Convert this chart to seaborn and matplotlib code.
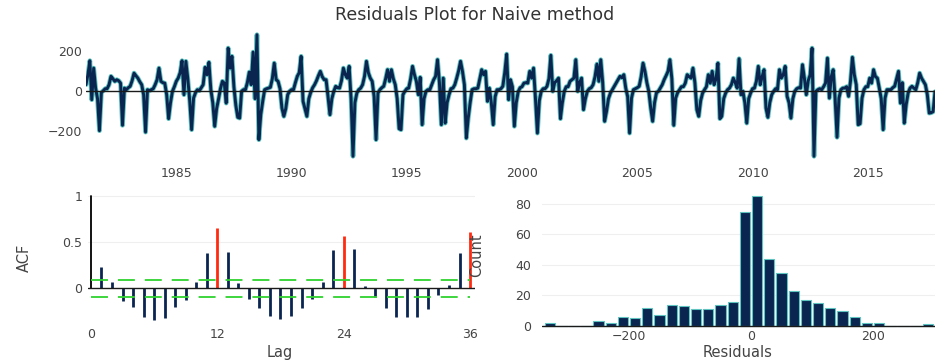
import numpy as np
import pandas as pd
import matplotlib
matplotlib.use("Agg")
import matplotlib.pyplot as plt
import seaborn as sns

# Monthly residuals of the naive forecast, Feb 1981 .. Dec 2017
residuals_1980s = [
    30, 80, 150, -45, 113, 13, -40, -200, -10, 0, 10,                  # 1981 (from Feb)
    10, 30, 72, 60, 47, 55, 50, 38, -173, 13, 5, 15,                   # 1982
    22, 50, 88, 75, 63, 45, 30, -20, -207, 5, 0, 5,                    # 1983
    10, 30, 55, 113, 47, 40, 38, -20, -140, -60, -3, 20,               # 1984
    47, 63, 90, 150, -20, 147, 60, -50, -195, -37, -10, 5,             # 1985
    0, 15, 30, 117, 80, 142, 5, -60, -178, -90, -42, 10,               # 1986
    47, 38, -62, 213, 113, 172, 20, -73, -133, -137, -3, 5,            # 1987
    5, 40, 93, 30, 193, -40, 280, -245, -120, -53, 5, 10,              # 1988
    13, 17, 60, 138, 55, 47, 10, -87, -128, -90, -20, -3,              # 1989
]
residuals_1990s = [
    5, 5, 40, 72, 90, 172, -53, -90, -128, -40, -8, 15,                # 1990
    30, 50, 75, 97, 70, 55, 55, -30, -120, -40, -3, 22,                # 1991
    15, 13, 50, 113, 80, 63, 122, -40, -328, -60, -12, 5,              # 1992
    13, 30, 72, 147, 90, 63, 47, -30, -245, -12, 5, 15,                # 1993
    22, 60, 105, 47, 105, 60, 30, -40, -190, -195, -20, -3,            # 1994
    10, 13, 60, 122, 80, 47, -20, 67, -170, -40, -3, 5,                # 1995
    5, 30, 55, 72, 155, 40, -170, 63, -162, -60, -20, 10,              # 1996
    13, 30, 63, 100, 147, 97, 30, -237, -137, -60, 5, 10,              # 1997
    10, 13, 60, 105, 80, 97, -53, 13, -60, -170, -30, 5,               # 1998
    5, 10, 22, 90, 183, -45, 55, 20, -178, -60, -5, 15,                # 1999
]
residuals_2000s = [
    20, 38, 40, 38, 97, 63, 113, -40, -212, -50, -3, 10,               # 2000
    10, 22, 60, 177, -3, 40, 50, 63, -140, -60, -3, 20,                # 2001
    20, 47, 55, 63, 155, -3, 40, 63, -95, -40, -3, 10,                 # 2002
    15, 30, 70, 133, 47, 155, 40, -153, -103, -40, -12, 5,             # 2003
    22, 40, 55, 72, 65, 80, 13, -30, -212, -37, 5, 10,                 # 2004
    15, 22, 70, 138, 97, 40, -3, -87, -153, -60, -10, -3,              # 2005
    13, 30, 55, 75, 97, 155, 60, -173, -37, -10, 5, 20,                # 2006
    20, 38, 80, 70, 63, 113, 40, -95, -128, -50, -12, 5,               # 2007
    20, 80, 38, 97, 30, 60, 138, -140, -128, -40, -12, 5,              # 2008
    13, 30, 63, 40, 13, 160, -20, -3, -60, -162, -40, -12,             # 2009
]
residuals_2010s = [
    10, 13, 47, 122, 30, 70, 105, -87, -133, -60, -20, -3,             # 2010
    10, 5, 105, 63, 80, 122, -28, -60, -137, -40, -3, 10,              # 2011
    15, 13, 130, 63, -20, 50, 80, 213, -328, -3, 5, 10,                # 2012
    5, 20, 38, 163, -37, 70, 105, -40, -233, -37, 5, 13,               # 2013
    13, 20, -28, 47, 167, 80, 30, -170, -165, -37, 5, 20,              # 2014
    20, 63, 38, 105, 70, 63, 13, -40, -195, -37, 5, 5,                 # 2015
    5, 15, 22, 60, 97, -62, 40, -162, -70, -12, 13, 22,                # 2016
    13, 5, 40, 88, 63, 47, 30, -20, -112, -110, -105, -5,              # 2017
]
year_ticks = [1985, 1990, 1995, 2000, 2005, 2010, 2015]

# Autocorrelation of the residuals, lags 0..36
acf_values = [1.0, 0.227, 0.072, -0.134, -0.206, -0.314, -0.343, -0.321,
              -0.202, -0.126, 0.065, 0.383, 0.657, 0.397, 0.061, -0.119,
              -0.213, -0.296, -0.336, -0.303, -0.213, -0.119, 0.069, 0.419,
              0.563, 0.430, 0.025, -0.097, -0.209, -0.307, -0.307, -0.307,
              -0.220, -0.072, 0.032, 0.383, 0.606]
seasonal_lags = [12, 24, 36]
acf_bound = 0.093
lag_ticks = [0, 12, 24, 36]

# Histogram of residuals: 20-wide bins starting at -340
hist_start = -340
hist_width = 20
hist_counts = [2, 0, 0, 0, 3, 2, 6, 5, 12, 7, 14, 13, 11, 11, 14, 16,
               75, 85, 44, 35, 23, 17, 15, 12, 10, 6, 2, 2, 0, 0, 0, 1]

NAVY = "#0a2550"
TEAL = "#5fc3c0"
RED = "#ff2a10"
GREEN = "#2fd22f"
TEXT = "#444444"
GRID = "#efefef"

sns.set_theme(style="white")
plt.rcParams["font.family"] = ["DejaVu Sans"]

W, H = 950, 363
fig = plt.figure(figsize=(W / 100, H / 100), dpi=100)


def px_axes(left, top, right, bottom):
    return fig.add_axes([left / W, 1 - bottom / H, (right - left) / W, (bottom - top) / H])


def style_axes(ax, size=9, pad_x=3, pad_y=3):
    for s in ax.spines.values():
        s.set_visible(False)
    ax.tick_params(axis="x", length=0, labelsize=size, labelcolor=TEXT, pad=pad_x)
    ax.tick_params(axis="y", length=0, labelsize=size, labelcolor=TEXT, pad=pad_y)


# ---- residual time series ----
resid = residuals_1980s + residuals_1990s + residuals_2000s + residuals_2010s
t = 1981 + (np.arange(len(resid)) + 1) / 12
ts = pd.DataFrame({"time": t, "resid": resid})

ax_ts = px_axes(86, 30.7, 935, 158.7)
sns.lineplot(data=ts, x="time", y="resid", ax=ax_ts, color=TEAL, lw=3.4, estimator=None)
sns.lineplot(data=ts, x="time", y="resid", ax=ax_ts, color=NAVY, lw=2.1, estimator=None)
ax_ts.axhline(0, color="#1a1a1a", lw=1.0, zorder=5)
ax_ts.set_xlim(t[0], t[-1])
ax_ts.set_ylim(-340, 300)
ax_ts.set_xticks(year_ticks)
ax_ts.set_yticks([-200, 0, 200])
ax_ts.set_xlabel("")
ax_ts.set_ylabel("")
style_axes(ax_ts, pad_x=6, pad_y=3)

# ---- ACF ----
ax_acf = px_axes(87.8, 194.2, 475.3, 325.2)
lags = np.arange(len(acf_values))
bar_colors = [RED if l in seasonal_lags else NAVY for l in lags[1:]]
ax_acf.yaxis.grid(True, color=GRID, lw=0.8)
ax_acf.set_axisbelow(True)
ax_acf.vlines(lags[1:], 0, acf_values[1:], colors=bar_colors, lw=2.0, zorder=3)
ax_acf.plot([0, 0], [0, acf_values[0]], color="black", lw=1.3, zorder=3)
ax_acf.axhline(0, color="#1a1a1a", lw=1.0, zorder=4)
for b in (acf_bound, -acf_bound):
    ax_acf.plot([0, 36], [b, b], color=GREEN, lw=1.3, dashes=(9.4, 5.5), zorder=5)
ax_acf.set_xlim(-0.3, 36.5)
ax_acf.set_ylim(-0.4, 1.02)
ax_acf.set_xticks(lag_ticks)
ax_acf.set_yticks([0, 0.5, 1])
ax_acf.set_yticklabels(["0", "0.5", "1"])
style_axes(ax_acf, pad_x=2, pad_y=4)
ax_acf.set_xlabel("Lag", fontsize=10.5, color=TEXT)
ax_acf.set_ylabel("ACF", fontsize=10.5, color=TEXT)
ax_acf.xaxis.set_label_coords(0.496, -0.15)
ax_acf.yaxis.set_label_coords(-0.145, 0.513)

# ---- histogram ----
ax_h = px_axes(542.4, 194.8, 935.2, 329)
edges = [hist_start + hist_width * i for i in range(len(hist_counts) + 1)]
hist_df = pd.DataFrame({"resid": [e + hist_width / 2 for e in edges[:-1]],
                        "count": hist_counts})
ax_h.yaxis.grid(True, color=GRID, lw=0.8)
ax_h.set_axisbelow(True)
sns.histplot(data=hist_df, x="resid", weights="count", bins=edges, ax=ax_h,
             color=NAVY, edgecolor=TEAL, linewidth=0.8, alpha=1, shrink=0.85, zorder=3)
ax_h.axhline(0, color="#1a1a1a", lw=1.0, zorder=4)
ax_h.set_xlim(-342, 302)
ax_h.set_ylim(-2, 86)
ax_h.set_xticks([-200, 0, 200])
ax_h.set_yticks([0, 20, 40, 60, 80])
style_axes(ax_h, pad_x=1, pad_y=8)
ax_h.set_xlabel("Residuals", fontsize=10.5, color=TEXT)
ax_h.set_ylabel("Count", fontsize=10.5, color=TEXT)
ax_h.xaxis.set_label_coords(0.498, -0.119)
ax_h.yaxis.set_label_coords(-0.149, 0.551)

fig.text(0.5, 1 - 15 / H, "Residuals Plot for Naive method", ha="center", va="center",
         fontsize=12.5, color="#333333")

fig.savefig("out.png", dpi=100)
